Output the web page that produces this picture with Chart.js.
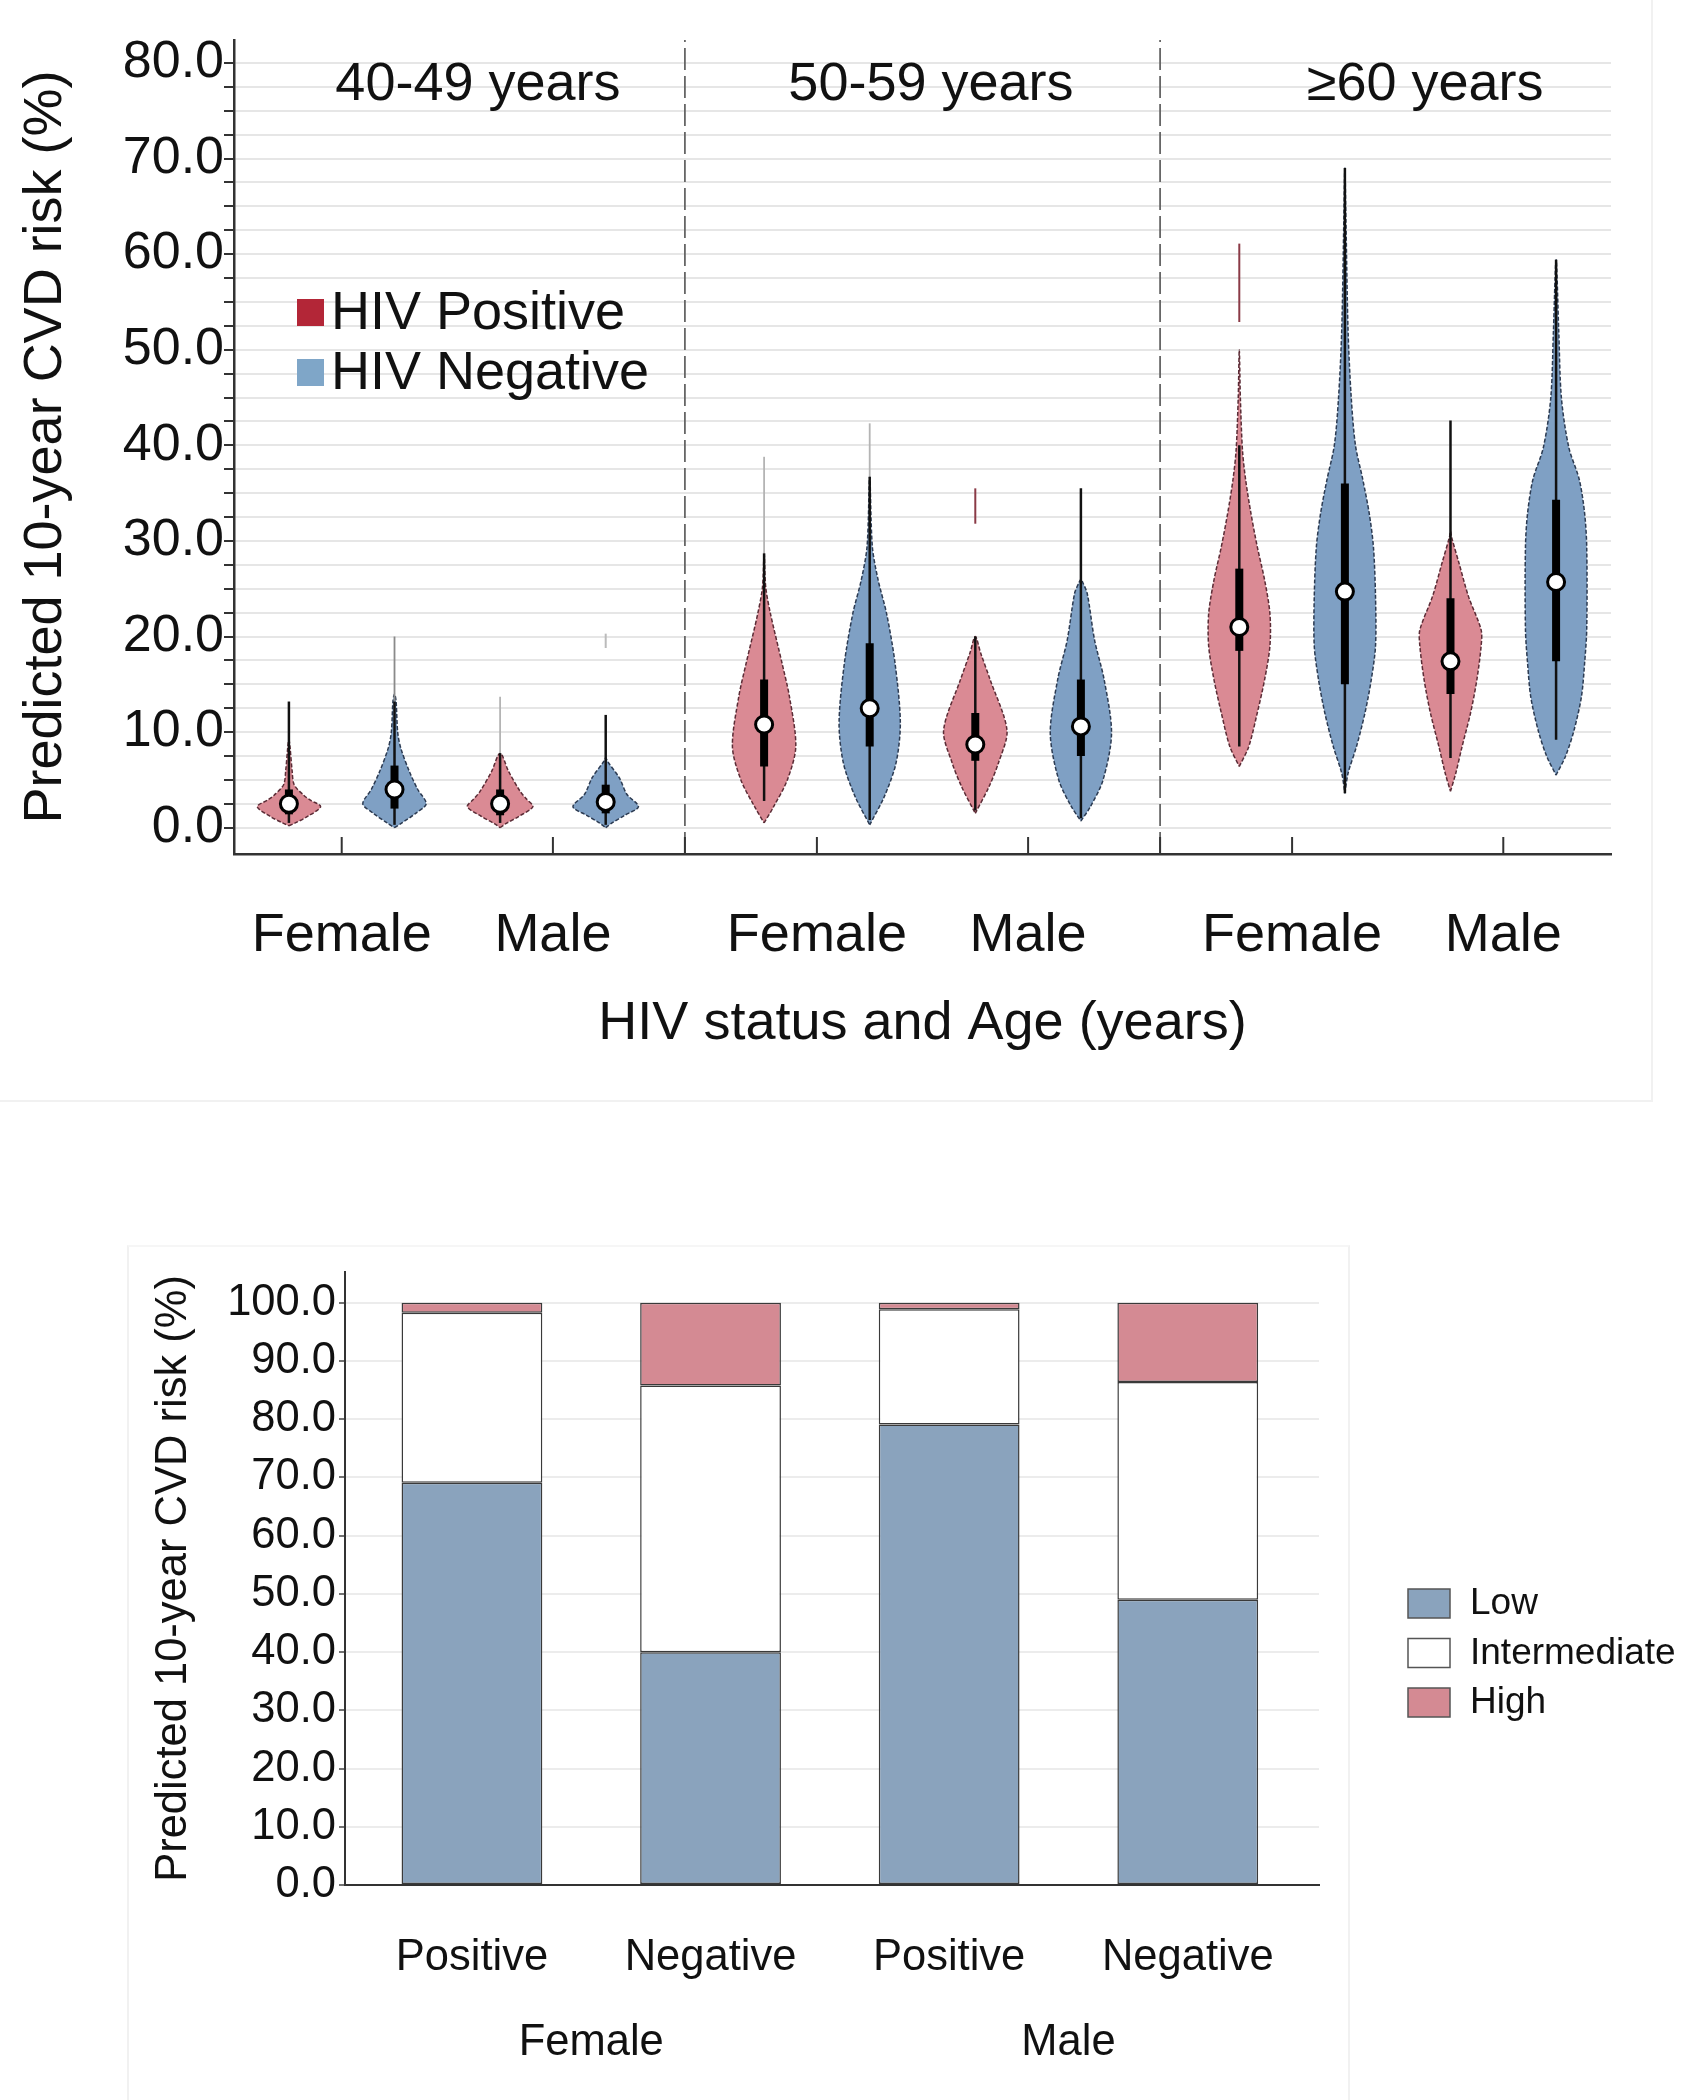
<!DOCTYPE html>
<html>
<head>
<meta charset="utf-8">
<script src="https://cdn.jsdelivr.net/npm/chart.js@4.4.1/dist/chart.umd.min.js"></script>
<style>
  body { margin: 0; background: #fff; width: 1695px; height: 2100px; position: relative; overflow: hidden; }
  .frame1 { position: absolute; left: 0; top: 0; width: 1651px; height: 1100px; border-right: 2px solid #f1f1f1; border-bottom: 2px solid #f1f1f1; }
  .frame2 { position: absolute; left: 127px; top: 1245px; width: 1219px; height: 860px; border-left: 2px solid #f1f1f1; border-right: 2px solid #f1f1f1; border-top: 2px solid #f6f6f6; }
  #top { position: absolute; left: 0; top: 0; }
  #bottom { position: absolute; left: 0; top: 1110px; }
</style>
</head>
<body>
<div class="frame1"></div>
<div class="frame2"></div>
<div id="top"><canvas id="violin" width="1695" height="1110"></canvas></div>
<div id="bottom"><canvas id="bars" width="1695" height="990"></canvas></div>
<script>
var FONT = '"Liberation Sans", Arial, sans-serif';

// ---- top chart: violins ----
var ageGroups = ['40-49 years', '50-59 years', '\u226560 years'];
var sexLabels = ['Female', 'Male', 'Female', 'Male', 'Female', 'Male'];
var hivStatus = ['HIV Positive', 'HIV Negative'];

// order inside each age group: Female+, Female-, Male+, Male-
var medians   = [2.5, 4.0, 2.5, 2.7, 10.8, 12.5, 8.7, 10.6, 21.0, 24.7, 17.4, 25.7];
var q1        = [1.4, 2.0, 1.3, 1.5, 6.4, 8.5, 7.0, 7.5, 18.5, 15.0, 14.0, 17.4];
var q3        = [4.0, 6.5, 4.0, 4.5, 15.5, 19.3, 12.0, 15.5, 27.1, 36.0, 24.0, 34.3];
var whiskerLo = [0.5, 0.3, 0.5, 0.3, 2.8, 0.8, 1.8, 1.0, 8.5, 3.6, 7.3, 9.2];
var whiskerHi = [13.2, 13.2, 7.8, 11.8, 28.7, 36.7, 20.0, 35.5, 40.0, 69.0, 42.6, 59.4];
var faintHi   = [null, 20.0, 13.7, null, 38.8, 42.3, null, null, null, null, null, null];
var outlierLo = [null, null, null, 18.8, null, null, 31.8, null, 52.9, null, null, null];
var outlierHi = [null, null, null, 20.3, null, null, 35.5, null, 61.1, null, null, null];

// density outlines: [risk %, half width]
var f40pos = [[0.2, 0], [0.5, 0.06], [1.2, 0.18], [2.2, 0.30], [2.9, 0.2], [3.4, 0.14], [4.5, 0.05], [6, 0.03], [8.5, 0.01], [9.2, 0]];
var f40neg = [[0, 0], [0.5, 0.07], [1.5, 0.2], [2.5, 0.30], [4, 0.22], [5.9, 0.14], [8.3, 0.06], [10, 0.03], [13.2, 0.015], [14, 0]];
var m40pos = [[0, 0], [0.4, 0.05], [1.2, 0.18], [2.2, 0.31], [3, 0.25], [3.8, 0.19], [5.9, 0.08], [7.8, 0]];
var m40neg = [[0, 0], [0.5, 0.06], [1.3, 0.18], [2.2, 0.31], [3.5, 0.2], [5.2, 0.13], [6.9, 0.02], [7.3, 0]];
var f50pos = [[0.5, 0], [2.2, 0.09], [5, 0.22], [8.5, 0.30], [13.7, 0.24], [17.2, 0.17], [22.4, 0.06], [25.2, 0.015], [28.7, 0]];
var f50neg = [[0.3, 0], [3.3, 0.14], [6.8, 0.25], [11, 0.29], [17.2, 0.24], [22.4, 0.16], [25.9, 0.08], [29.4, 0.025], [36.7, 0]];
var m50pos = [[1.5, 0], [4.3, 0.13], [6.8, 0.22], [10.2, 0.30], [15.5, 0.14], [18.3, 0.05], [20, 0]];
var m50neg = [[0.7, 0], [2.2, 0.09], [5, 0.21], [9.9, 0.29], [15.5, 0.22], [19.6, 0.13], [24.5, 0.06], [25.6, 0.02], [26, 0]];
var f60pos = [[6.4, 0], [8.5, 0.09], [12, 0.17], [15.5, 0.24], [19, 0.29], [22.4, 0.29], [25.9, 0.24], [29.4, 0.17], [32.9, 0.11], [36.4, 0.06], [39.5, 0.03], [45, 0.01], [50, 0]];
var f60neg = [[3.6, 0], [5.7, 0.03], [8.5, 0.11], [12, 0.19], [15.5, 0.25], [19, 0.29], [24.2, 0.29], [29.4, 0.27], [32.9, 0.23], [36.4, 0.17], [40, 0.1], [45, 0.06], [52, 0.03], [63.5, 0.01], [69, 0]];
var m60pos = [[3.8, 0], [5.7, 0.05], [8.5, 0.11], [12, 0.19], [15.5, 0.25], [19, 0.29], [20.7, 0.29], [24.2, 0.17], [27.7, 0.08], [30.4, 0.01], [31, 0]];
var m60neg = [[5.5, 0], [7.5, 0.09], [10.2, 0.17], [13.7, 0.24], [17.2, 0.27], [20.7, 0.29], [29.4, 0.29], [32.9, 0.27], [36.4, 0.22], [39.8, 0.12], [45, 0.05], [52, 0.025], [59.4, 0]];

var shapes = [f40pos, f40neg, m40pos, m40neg, f50pos, f50neg, m50pos, m50neg, f60pos, f60neg, m60pos, m60neg];

var Y_MIN = -2.75, Y_MAX = 82.4;
var titleX = [1.79, 6.08, 10.76];

function violinX(i) { return Math.floor(i / 4) * 4.5 + (i % 4); }

function seg(x, lo, hi, color, width, order) {
  return {
    data: [{ x: x, y: lo }, { x: x, y: hi }],
    borderColor: color, borderWidth: width, borderCapStyle: 'butt',
    pointRadius: 0, fill: false, order: order
  };
}

var violinSets = [];
shapes.forEach(function (prof, i) {
  var x0 = violinX(i);
  var right = prof.map(function (p) { return { x: x0 + p[1], y: p[0] }; });
  var left = prof.slice(0, -1).reverse().map(function (p) { return { x: x0 - p[1], y: p[0] }; });
  violinSets.push({
    data: right.concat(left),
    fill: 'shape',
    backgroundColor: i % 2 ? '#7fa0c4' : '#da8a94',
    borderColor: i % 2 ? '#2c3b52' : '#5b2c36',
    borderWidth: 1.5, borderDash: [4, 2],
    pointRadius: 0, tension: 0.3, order: 6
  });
  if (faintHi[i] != null) violinSets.push(seg(x0, whiskerHi[i], faintHi[i], i === 1 ? '#8a8a8a' : '#b4b4b4', 1.8, 5));
  if (outlierLo[i] != null) violinSets.push(seg(x0, outlierLo[i], outlierHi[i], i === 3 ? '#bbbbbb' : (i % 2 ? '#333' : '#8a3a46'), 2, 5));
  violinSets.push(seg(x0, whiskerLo[i], whiskerHi[i], '#111', 2.5, 4));
  violinSets.push(seg(x0, q1[i], q3[i], '#000', 8, 3));
});

// dashed separators between age groups
var dividerX = [3.75, 8.25];
dividerX.forEach(function (d) {
  violinSets.push({
    data: [{ x: d, y: Y_MIN }, { x: d, y: Y_MAX }],
    borderColor: '#666', borderWidth: 1.8, borderDash: [22, 6],
    pointRadius: 0, fill: false, order: 7
  });
});

violinSets.push({
  data: medians.map(function (m, i) { return { x: violinX(i), y: m }; }),
  showLine: false, pointRadius: 8.5, pointBorderWidth: 3,
  pointBackgroundColor: '#fff', pointBorderColor: '#000', order: 1
});

var sexTicks = [0.5, 2.5, 5, 7, 9.5, 11.5];

var violinDecor = {
  id: 'violinDecor',
  afterDraw: function (chart) {
    var ctx = chart.ctx, xs = chart.scales.x, area = chart.chartArea;
    ctx.save();
    ctx.strokeStyle = '#333';
    ctx.lineWidth = 2;
    sexTicks.concat(dividerX).forEach(function (v) {
      var px = xs.getPixelForValue(v);
      ctx.beginPath();
      ctx.moveTo(px, area.bottom);
      ctx.lineTo(px, area.bottom - 17);
      ctx.stroke();
    });
    ctx.fillStyle = '#111';
    ctx.font = '54px ' + FONT;
    ctx.textAlign = 'center';
    ctx.textBaseline = 'middle';
    ageGroups.forEach(function (g, i) {
      ctx.fillText(g, xs.getPixelForValue(titleX[i]), area.top + 45);
    });
    // legend
    var legendColors = ['#b32637', '#7fa6c8'];
    ctx.textAlign = 'left';
    hivStatus.forEach(function (s, i) {
      var cy = 312 + i * 60;
      ctx.fillStyle = legendColors[i];
      ctx.fillRect(297, cy - 13, 27, 27);
      ctx.fillStyle = '#111';
      ctx.fillText(s, 331, cy + 2);
    });
    ctx.restore();
  }
};

new Chart(document.getElementById('violin'), {
  type: 'line',
  data: { datasets: violinSets },
  options: {
    responsive: false, animation: false, events: [],
    layout: { padding: { left: 0, top: 40, right: 84, bottom: 0 } },
    plugins: { legend: { display: false }, tooltip: { enabled: false } },
    scales: {
      x: {
        type: 'linear', min: -0.52, max: 12.52,
        afterFit: function (s) { s.height = 256; },
        afterBuildTicks: function (s) { s.ticks = sexTicks.map(function (v) { return { value: v }; }); },
        grid: { display: false, drawTicks: false },
        border: { display: true, color: '#333', width: 2.5 },
        ticks: {
          autoSkip: false, maxRotation: 0, padding: 50, color: '#111',
          font: { size: 54, family: FONT },
          callback: function (v, i) { return sexLabels[i]; }
        },
        title: {
          display: true, text: 'HIV status and Age (years)', color: '#111',
          font: { size: 54, family: FONT }, padding: { top: 0, bottom: 53 }
        }
      },
      y: {
        min: Y_MIN, max: Y_MAX,
        afterFit: function (s) { s.width = 234; },
        afterBuildTicks: function (s) {
          s.ticks = s.ticks.filter(function (t) { return t.value >= 0 && t.value <= 80; });
        },
        grid: { color: '#e6e6e6', lineWidth: 2, tickLength: 10, tickColor: '#333', tickWidth: 2 },
        border: { display: true, color: '#333', width: 2.5 },
        ticks: {
          stepSize: 2.5, includeBounds: false, autoSkip: false, padding: 0, color: '#111',
          font: { size: 52, family: FONT },
          callback: function (v) { return Math.abs(v % 10) < 1e-6 ? v.toFixed(1) : ''; }
        },
        title: {
          display: true, text: 'Predicted 10-year CVD risk (%)', color: '#111',
          font: { size: 54, family: FONT }, padding: { top: 14, bottom: 0 }
        }
      }
    }
  },
  plugins: [violinDecor]
});

// ---- bottom chart: stacked risk categories ----
var barCategories = ['Positive', 'Negative', 'Positive', 'Negative'];
var sexGroups = ['Female', 'Male'];
var riskLevels = ['Low', 'Intermediate', 'High'];
var lowRisk = [69.1, 40.0, 79.1, 49.0];
var intermediateRisk = [29.2, 45.8, 19.8, 37.4];
var highRisk = [1.7, 14.2, 1.1, 13.6];

var riskColors = ['#8aa3bd', '#ffffff', '#d48a93'];

var barDecor = {
  id: 'barDecor',
  afterDraw: function (chart) {
    var ctx = chart.ctx, xs = chart.scales.x;
    ctx.save();
    ctx.fillStyle = '#111';
    ctx.font = '43.5px ' + FONT;
    ctx.textAlign = 'center';
    ctx.textBaseline = 'middle';
    sexGroups.forEach(function (s, i) {
      var px = (xs.getPixelForValue(2 * i) + xs.getPixelForValue(2 * i + 1)) / 2;
      ctx.fillText(s, px, 933);
    });
    ctx.font = '37px ' + FONT;
    ctx.textAlign = 'left';
    chart.data.datasets.forEach(function (ds, i) {
      var cy = 493 + i * 49.5;
      ctx.fillStyle = ds.backgroundColor;
      ctx.fillRect(1408, cy - 14, 42, 29);
      ctx.strokeStyle = '#555';
      ctx.lineWidth = 1.5;
      ctx.strokeRect(1408, cy - 14, 42, 29);
      ctx.fillStyle = '#111';
      ctx.fillText(ds.label, 1470, cy + 1);
    });
    ctx.restore();
  }
};

new Chart(document.getElementById('bars'), {
  type: 'bar',
  data: {
    datasets: [lowRisk, intermediateRisk, highRisk].map(function (vals, i) {
      return {
        label: riskLevels[i],
        data: vals.map(function (v, k) { return { x: k, y: v }; }),
        backgroundColor: riskColors[i], borderColor: '#3a3a3a',
        borderWidth: 1.5, borderSkipped: false,
        barPercentage: 0.59, categoryPercentage: 1.0
      };
    })
  },
  options: {
    responsive: false, animation: false, events: [],
    layout: { padding: { left: 0, top: 162, right: 376, bottom: 0 } },
    plugins: { legend: { display: false }, tooltip: { enabled: false } },
    scales: {
      x: {
        type: 'linear', stacked: true, offset: false, min: -0.532, max: 3.55,
        afterFit: function (s) { s.height = 215; },
        afterBuildTicks: function (s) {
          s.ticks = barCategories.map(function (c, k) { return { value: k }; });
        },
        grid: { display: false, drawTicks: false, offset: false },
        border: { display: true, color: '#333', width: 2 },
        ticks: {
          autoSkip: false, maxRotation: 0, padding: 47, color: '#111',
          font: { size: 43.5, family: FONT },
          callback: function (v, i) { return barCategories[i]; }
        }
      },
      y: {
        stacked: true, min: 0, max: 105.3,
        afterFit: function (s) { s.width = 345; },
        afterBuildTicks: function (s) {
          s.ticks = s.ticks.filter(function (t) { return t.value <= 100; });
        },
        grid: { color: '#ececec', lineWidth: 2, tickLength: 6, tickColor: '#444', tickWidth: 1.5 },
        border: { display: true, color: '#333', width: 2 },
        ticks: {
          stepSize: 10, includeBounds: false, padding: 3, color: '#111',
          font: { size: 43.5, family: FONT },
          callback: function (v) { return v.toFixed(1); }
        },
        title: {
          display: true, text: 'Predicted 10-year CVD risk (%)', color: '#111',
          font: { size: 43.5, family: FONT }, padding: { top: 148, bottom: 0 }
        }
      }
    }
  },
  plugins: [barDecor]
});
</script>
</body>
</html>
